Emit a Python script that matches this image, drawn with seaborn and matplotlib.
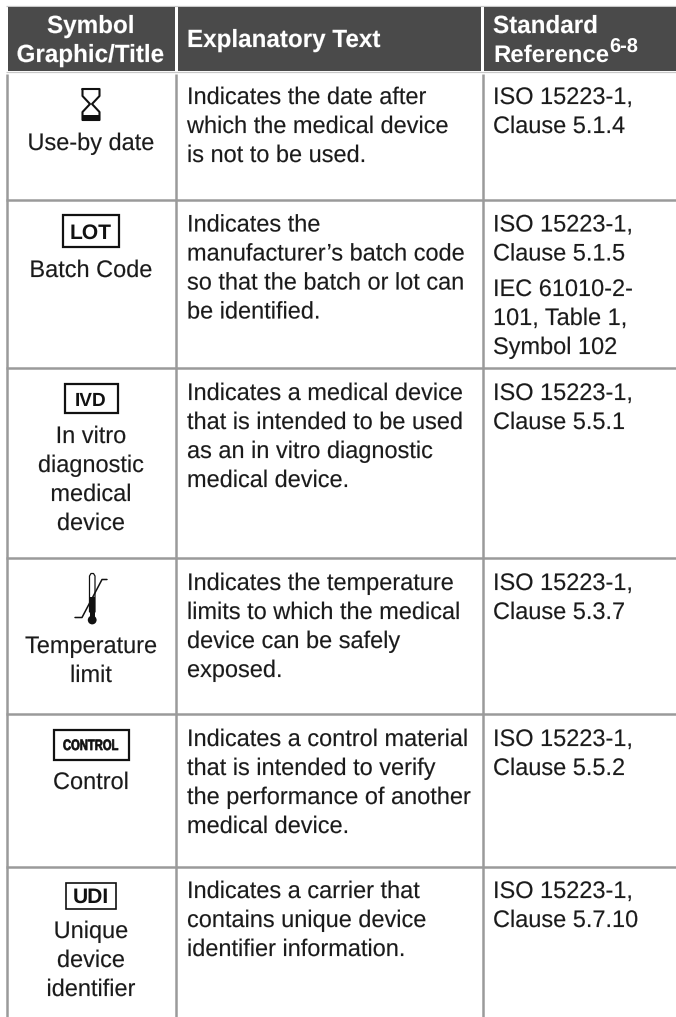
import matplotlib
matplotlib.use("Agg")
import matplotlib.pyplot as plt
import matplotlib.patheffects as pe
from matplotlib.transforms import Affine2D
import seaborn as sns
from matplotlib.patches import Rectangle, Circle

# ---- content ----
headers_sym = ["Symbol", "Graphic/Title"]
header_text = "Explanatory Text"
headers_ref = ["Standard", "Reference"]
header_sup = "6-8"

captions = [["Use-by date"], ["Batch Code"],
            ["In vitro", "diagnostic", "medical", "device"],
            ["Temperature", "limit"], ["Control"],
            ["Unique", "device", "identifier"]]
explanations = [
    ["Indicates the date after", "which the medical device", "is not to be used."],
    ["Indicates the", "manufacturer\u2019s batch code", "so that the batch or lot can", "be identified."],
    ["Indicates a medical device", "that is intended to be used", "as an in vitro diagnostic", "medical device."],
    ["Indicates the temperature", "limits to which the medical", "device can be safely", "exposed."],
    ["Indicates a control material", "that is intended to verify", "the performance of another", "medical device."],
    ["Indicates a carrier that", "contains unique device", "identifier information."],
]
references = [
    ["ISO 15223-1,", "Clause 5.1.4"],
    ["ISO 15223-1,", "Clause 5.1.5"],
    ["ISO 15223-1,", "Clause 5.5.1"],
    ["ISO 15223-1,", "Clause 5.3.7"],
    ["ISO 15223-1,", "Clause 5.5.2"],
    ["ISO 15223-1,", "Clause 5.7.10"],
]
extra_reference = ["IEC 61010-2-", "101, Table 1,", "Symbol 102"]
box_symbols = {1: "LOT", 2: "IVD", 4: "CONTROL", 5: "UDI"}

# ---- layout (pixels) ----
W, H = 676, 1017
rules_y = [199.5, 367.5, 558, 713.5, 866.5]
rules_x = [6.5, 175.5, 482.5]
first_base = [104, 231.5, 400, 590, 746, 898]
caption_base = [150, 277, 443, 653, 789, 938]
extra_base = 296
LEAD = 29
# x, y, w, h, font size, baseline, line width
boxes = {1: (63, 215, 56, 32, 15.0, 239, 1.6),
         2: (64.5, 383.5, 53, 29, 14.0, 406, 1.6),
         4: (53.5, 729.5, 75, 30, 10.9, 750, 1.6),
         5: (66, 882.5, 50, 26, 15.3, 903, 1.2)}


class Condensed(pe.AbstractPathEffect):
    """Draw a text's glyphs slightly narrower, with an optional hairline weight."""

    def __init__(self, sx, weight):
        super().__init__()
        self.sx, self.weight = sx, weight

    def draw_path(self, renderer, gc, tpath, affine, rgbFace=None):
        gc0 = renderer.new_gc()
        gc0.copy_properties(gc)
        gc0.set_linewidth(self.weight)
        gc0.set_foreground(rgbFace)
        renderer.draw_path(gc0, tpath, Affine2D().scale(self.sx, 1) + affine, rgbFace)
        gc0.restore()


sns.set_theme(style="white")
plt.rcParams["font.family"] = ["Liberation Sans", "DejaVu Sans"]
plt.rcParams["text.hinting"] = "no_hinting"
plt.rcParams["text.hinting_factor"] = 1
INK = "#1a1a1a"
RULE = "#9a9a9a"
HEAD = "#4a4a4a"
FS = 17.25      # 24 px em
SX = 0.982
FSB = 17.9      # 25 px em
SXB = 0.974

fig = plt.figure(figsize=(W / 100, H / 100), dpi=100, facecolor="white")
ax = fig.add_axes([0, 0, 1, 1])
ax.set_xlim(0, W)
ax.set_ylim(H, 0)
ax.axis("off")
sns.despine(ax=ax, left=True, bottom=True)
renderer = fig.canvas.get_renderer()


def put(x, y, s, center=False, bold=False):
    sx = SXB if bold else SX
    t = ax.text(x, y, s, ha="left", va="baseline", zorder=3,
                color="white" if bold else INK,
                fontsize=FSB if bold else FS,
                fontweight="bold" if bold else "normal")
    if center:
        t.set_x(x - sx * t.get_window_extent(renderer).width / 2)
    t.set_path_effects([Condensed(sx, 0.1)])
    return t


# header band
for x0, x1 in [(7.5, 174.5), (177.5, 481), (484, W)]:
    ax.add_patch(Rectangle((x0, 7), x1 - x0, 64, fc=HEAD, ec="none", zorder=2))
ax.hlines([6.3, 71.8], 6, W, color="#c8c8c8", lw=0.9, zorder=1)

# rules
ax.vlines(rules_x, 74, H, color=RULE, lw=1.8, zorder=1)
ax.hlines(rules_y, 5.5, W, color=RULE, lw=1.8, zorder=1)

# header text
put(91, 33, headers_sym[0], center=True, bold=True)
put(91, 62, headers_sym[1], center=True, bold=True)
put(187, 47, header_text, bold=True)
put(493, 33, headers_ref[0], bold=True)
ax.text(493, 62, headers_ref[1], ha="left", va="baseline", color="white",
        fontsize=17.4, fontweight="bold", zorder=3)
ax.text(609.5, 53, header_sup, ha="left", color="white", fontsize=14.2,
        fontweight="bold", va="baseline", zorder=3)

for i, lines in enumerate(captions):
    for j, s in enumerate(lines):
        put(91, caption_base[i] + j * LEAD, s, center=True)
for i, lines in enumerate(explanations):
    for j, s in enumerate(lines):
        put(187, first_base[i] + j * LEAD, s)
for i, lines in enumerate(references):
    for j, s in enumerate(lines):
        put(493, first_base[i] + j * LEAD, s)
for j, s in enumerate(extra_reference):
    put(493, extra_base + j * LEAD, s)

# boxed symbols
for i, label in box_symbols.items():
    x, y, w, h, fs, base, lw = boxes[i]
    ax.add_patch(Rectangle((x, y), w, h, fc="white", ec="#111111", lw=lw, zorder=3))
    if label == "CONTROL":
        t = ax.text(63, base, label, ha="left", va="baseline", color="#111111",
                    fontsize=fs, fontweight="bold", zorder=4)
        t.set_path_effects([Condensed(0.74, 0.5)])
    else:
        ax.text(x + w / 2, base, label, ha="center", va="baseline", color="#111111",
                fontsize=fs, fontweight="bold", zorder=4)

# hourglass
ax.plot([82.5, 99.5, 99.5, 92, 99.5, 99.5, 82.5, 82.5, 90, 82.5, 82.5],
        [89, 89, 96, 104, 112, 120, 120, 112, 104, 96, 89],
        color="#111111", lw=1.5, zorder=3)
ax.add_patch(Rectangle((82, 114.5), 18, 6.5, fc="#111111", ec="none", zorder=3))

# thermometer
ax.plot([75, 82, 102, 107], [617.5, 617.5, 579.5, 579.5], color="#111111", lw=1.1, zorder=4)
ax.plot([89.5, 89.5, 91, 93.5, 95, 95], [612, 576, 573.5, 573.5, 576, 612],
        color="#111111", lw=0.9, zorder=3)
ax.add_patch(Rectangle((90, 597), 4.8, 23, fc="#111111", ec="none", zorder=3))
ax.add_patch(Circle((92.2, 620), 4.4, fc="#111111", ec="none", zorder=3))

fig.savefig("out.png", dpi=100, facecolor="white")
